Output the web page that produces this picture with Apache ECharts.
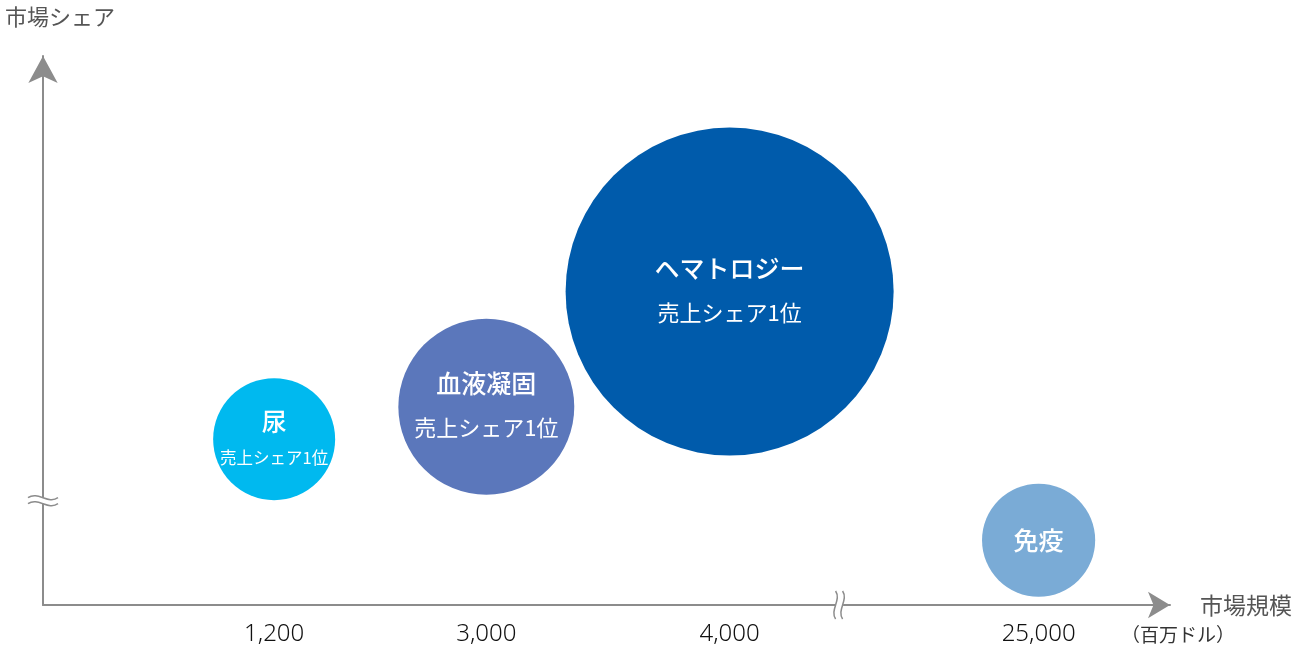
<!DOCTYPE html>
<html><head><meta charset="utf-8">
<script src="https://cdn.jsdelivr.net/npm/echarts@6/dist/echarts.min.js"></script>
<style>html,body{margin:0;padding:0;background:#fff}#c{width:1307px;height:652px}</style>
</head><body><div id="c"></div>
<script>
// ---- data ----
const segmentNames = ['尿', '血液凝固', 'ヘマトロジー', '免疫'];
const subLabels = ['売上シェア1位', '売上シェア1位', '売上シェア1位', ''];
const marketSize = [1200, 3000, 4000, 25000];          // 市場規模（百万ドル）
const marketShare = [30.2, 36.1, 57.1, 11.8];          // 市場シェア (schematic)
const salesVolume = [100, 208, 723, 86];               // relative bubble value
const xTickValues = [1200, 3000, 4000, 25000];

// ---- styles ----
const FONT = '"Noto Sans CJK JP", "Noto Sans", sans-serif';
const NUM_FONT = '"Noto Sans", "Noto Sans CJK JP", sans-serif';
const bubbleColors = ['#00b9ef', '#5b77bb', '#005bab', '#7aabd6'];
const axisGray = '#8c8c8c';

const chart = echarts.init(document.getElementById('c'));

const data = segmentNames.map((n, i) => {
  const small = i === 0;
  return {
    name: n,
    value: [marketSize[i], marketShare[i], salesVolume[i]],
    itemStyle: { color: bubbleColors[i], opacity: 1 },
    label: {
      show: true,
      position: 'inside',
      formatter: subLabels[i] ? '{n|' + n + '}\n{s|' + subLabels[i] + '}' : '{n|' + n + '}',
      rich: {
        n: { fontSize: 25, fontWeight: 500, color: '#fff', fontFamily: FONT, lineHeight: small ? 38 : 42 },
        s: { fontSize: small ? 16.5 : 22, fontWeight: 400, color: '#fff', fontFamily: FONT, lineHeight: small ? 36 : 46 }
      }
    }
  };
});

const option = {
  animation: false,
  textStyle: { fontFamily: FONT },
  grid: { left: 43, right: 137, top: 56, bottom: 47, outerBoundsMode: 'none' },
  xAxis: [{
    type: 'value',
    min: 250,
    max: 25540,
    breaks: [
      { start: 1400, end: 2800, gap: 472 },
      { start: 4400, end: 24230, gap: 100 }
    ],
    breakArea: { show: false },
    axisLine: { show: false },
    axisTick: { show: false },
    splitLine: { show: false },
    axisLabel: {
      customValues: xTickValues,
      formatter: v => Number(v).toLocaleString('en-US'),
      fontSize: 24, fontWeight: 300, color: '#111', margin: 17, fontFamily: NUM_FONT
    },
    name: '市場規模',
    nameLocation: 'end',
    nameGap: 30,
    nameTextStyle: { fontSize: 23, color: '#555', align: 'left', verticalAlign: 'middle', fontFamily: FONT }
  }, {
    // plain axis line with arrow (continuous line under the broken scale)
    type: 'value',
    position: 'bottom',
    min: 0,
    max: 1,
    axisLine: { show: true, onZero: false, symbol: ['none', 'arrow'], symbolSize: [20, 22],
      lineStyle: { color: axisGray, width: 2 } },
    axisTick: { show: false },
    axisLabel: { show: false },
    splitLine: { show: false }
  }],
  yAxis: {
    type: 'value',
    min: 0,
    max: 100,
    axisLine: { show: true, onZero: false, symbol: ['none', 'arrow'], symbolSize: [22, 27],
      lineStyle: { color: axisGray, width: 2 } },
    axisTick: { show: false },
    axisLabel: { show: false },
    splitLine: { show: false },
    name: '市場シェア',
    nameLocation: 'end',
    nameGap: 39,
    nameTextStyle: { fontSize: 22, color: '#555', align: 'center', verticalAlign: 'middle',
      padding: [0, 0, 0, 34], fontFamily: FONT }
  },
  series: [{
    type: 'scatter',
    xAxisIndex: 0,
    symbol: 'circle',
    symbolSize: v => Math.sqrt(v[2]) * 12.2,
    data: data,
    emphasis: { disabled: true }
  }]
};
chart.setOption(option);

// ---- break marks & unit (decorations) ----
const bx = (chart.convertToPixel({ xAxisIndex: 0 }, 4400) + chart.convertToPixel({ xAxisIndex: 0 }, 24230)) / 2;
const axisY = chart.convertToPixel({ yAxisIndex: 0 }, 0);
const axisX = chart.convertToPixel({ xAxisIndex: 0 }, 250);
const byY = chart.convertToPixel({ yAxisIndex: 0 }, 19);
const waveStyle = { stroke: axisGray, lineWidth: 1.5, fill: null };

chart.setOption({
  graphic: [
    { type: 'rect', z: 100, shape: { x: bx - 4, y: axisY - 3, width: 8, height: 6 }, style: { fill: '#fff' } },
    { type: 'bezierCurve', z: 101, shape: { x1: bx - 3.5, y1: axisY - 14, cpx1: bx + 2.5, cpy1: axisY - 5, cpx2: bx - 9.5, cpy2: axisY + 5, x2: bx - 3.5, y2: axisY + 14 }, style: waveStyle },
    { type: 'bezierCurve', z: 101, shape: { x1: bx + 3.5, y1: axisY - 14, cpx1: bx + 9.5, cpy1: axisY - 5, cpx2: bx - 2.5, cpy2: axisY + 5, x2: bx + 3.5, y2: axisY + 14 }, style: waveStyle },
    { type: 'rect', z: 100, shape: { x: axisX - 3, y: byY - 3, width: 6, height: 6 }, style: { fill: '#fff' } },
    { type: 'bezierCurve', z: 101, shape: { x1: axisX - 15, y1: byY - 3, cpx1: axisX - 5, cpy1: byY - 10, cpx2: axisX + 5, cpy2: byY + 4, x2: axisX + 15, y2: byY - 3 }, style: waveStyle },
    { type: 'bezierCurve', z: 101, shape: { x1: axisX - 15, y1: byY + 3, cpx1: axisX - 5, cpy1: byY - 4, cpx2: axisX + 5, cpy2: byY + 10, x2: axisX + 15, y2: byY + 3 }, style: waveStyle },
    { type: 'text', z: 100, style: { text: '（百万ドル）', x: 1121, y: 635, verticalAlign: 'middle', fontSize: 19, fill: '#333', fontFamily: FONT } }
  ]
});
</script>
</body></html>
